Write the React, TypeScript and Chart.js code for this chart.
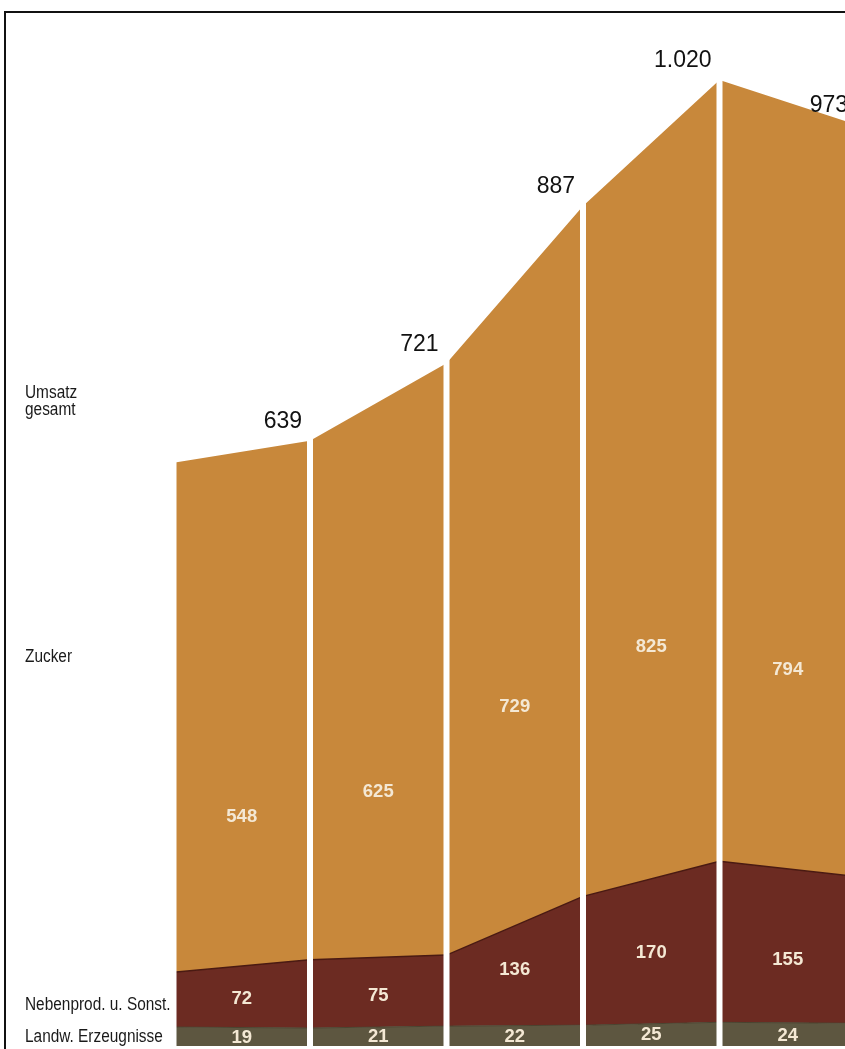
import React, { useEffect, useRef } from "react";
import { Chart, registerables } from "chart.js";

Chart.register(...registerables);

// Periods (the first one is the preceding year, drawn only as the left edge)
const periods = ["Vorjahr", "Jahr 1", "Jahr 2", "Jahr 3", "Jahr 4", "Jahr 5"];
const landw = [20, 19, 21, 22, 25, 24];
const neben = [58, 72, 75, 136, 170, 155];
const zucker = [538, 548, 625, 729, 825, 794];
const seriesNames = ["Landw. Erzeugnisse", "Nebenprod. u. Sonst.", "Zucker"];

const totals = periods.map((_, i) => landw[i] + neben[i] + zucker[i]);
const fmtDE = (n: number) => {
  const s = String(Math.round(n));
  return s.replace(/\B(?=(\d{3})+(?!\d))/g, ".");
};

const COL_ZUCKER = "#c8883b";
const COL_NEBEN = "#6c2b22";
const COL_LANDW = "#5d5640";
const INNER_TXT = "#f4e8d4";

const W = 845;
const H = 1049;
const X0 = 173.5; // pixel of first period
const DX = 136.5; // pixels per period
const PX_PER_UNIT = 0.947;
const BASE = 1046;

const overlayPlugin = {
  id: "overlay",
  afterDatasetsDraw(chart: any) {
    const ctx = chart.ctx;
    const x = chart.scales.x;
    const y = chart.scales.y;
    ctx.save();
    // white separators
    ctx.fillStyle = "#ffffff";
    periods.forEach((_, i) => {
      const px = x.getPixelForValue(i);
      ctx.fillRect(px - 3, 20, 6, H);
    });
    // totals
    ctx.fillStyle = "#111111";
    ctx.font = "23px 'Liberation Sans', Arial, sans-serif";
    ctx.textAlign = "right";
    ctx.textBaseline = "middle";
    for (let i = 1; i < periods.length; i++) {
      const px = x.getPixelForValue(i) - 8;
      const py = y.getPixelForValue(totals[i]) - 19;
      ctx.fillText(fmtDE(totals[i]), px, py);
    }
    // inner values
    ctx.fillStyle = INNER_TXT;
    ctx.font = "bold 18.5px 'Liberation Sans', Arial, sans-serif";
    ctx.textAlign = "center";
    for (let i = 1; i < periods.length; i++) {
      const xm = x.getPixelForValue(i - 0.5);
      ctx.fillText(String(landw[i]), xm, y.getPixelForValue(landw[i] / 2) + 1);
      ctx.fillText(String(neben[i]), xm, y.getPixelForValue(landw[i] + 0.43 * neben[i]));
      ctx.fillText(
        String(zucker[i]),
        xm,
        y.getPixelForValue(landw[i] + neben[i] + 0.275 * zucker[i])
      );
    }
    // side labels (slightly condensed)
    ctx.fillStyle = "#1a1a1a";
    ctx.font = "17.5px 'Liberation Sans', Arial, sans-serif";
    ctx.textAlign = "left";
    const side = (t: string, px: number, py: number) => {
      ctx.save();
      ctx.translate(px, py);
      ctx.scale(0.88, 1);
      ctx.fillText(t, 0, 0);
      ctx.restore();
    };
    side("Umsatz", 25, 393);
    side("gesamt", 25, 410);
    side(seriesNames[2], 25, 657);
    side(seriesNames[1], 25, 1005);
    side(seriesNames[0], 25, 1037);
    ctx.restore();
  },
};

export default function App() {
  const ref = useRef<HTMLCanvasElement | null>(null);
  useEffect(() => {
    if (!ref.current) return;
    const xMin = -X0 / DX;
    const xMax = xMin + W / DX;
    const yMax = BASE / PX_PER_UNIT;
    const pts = (arr: number[]) => arr.map((v, i) => ({ x: i, y: v }));
    const chart = new Chart(ref.current, {
      type: "line",
      data: {
        labels: periods,
        datasets: [
          {
            label: seriesNames[0],
            data: pts(landw),
            backgroundColor: COL_LANDW,
            borderColor: "#4a4430",
            borderWidth: 1,
            fill: "origin",
            pointRadius: 0,
            tension: 0,
          },
          {
            label: seriesNames[1],
            data: pts(neben),
            backgroundColor: COL_NEBEN,
            borderColor: "#4a1a12",
            borderWidth: 1.5,
            fill: "-1",
            pointRadius: 0,
            tension: 0,
          },
          {
            label: seriesNames[2],
            data: pts(zucker),
            backgroundColor: COL_ZUCKER,
            borderColor: COL_ZUCKER,
            borderWidth: 0,
            fill: "-1",
            pointRadius: 0,
            tension: 0,
          },
        ],
      },
      options: {
        animation: false,
        responsive: false,
        maintainAspectRatio: false,
        layout: { padding: { left: 0, right: 0, top: 0, bottom: H - BASE } },
        plugins: {
          legend: { display: false },
          tooltip: { enabled: false },
        },
        scales: {
          x: { type: "linear", min: xMin, max: xMax, display: false },
          y: { stacked: true, min: 0, max: yMax, display: false },
        },
      },
      plugins: [overlayPlugin],
    });
    return () => chart.destroy();
  }, []);

  return (
    <div style={{ position: "absolute", left: 0, top: 0, width: W, height: H, background: "#fff" }}>
      <canvas ref={ref} width={W} height={H} style={{ display: "block" }} />
      <div
        style={{
          position: "absolute",
          left: 4,
          top: 11,
          width: W - 4,
          height: H - 11,
          borderTop: "2px solid #111",
          borderLeft: "2px solid #111",
          boxSizing: "border-box",
          pointerEvents: "none",
        }}
      />
    </div>
  );
}
